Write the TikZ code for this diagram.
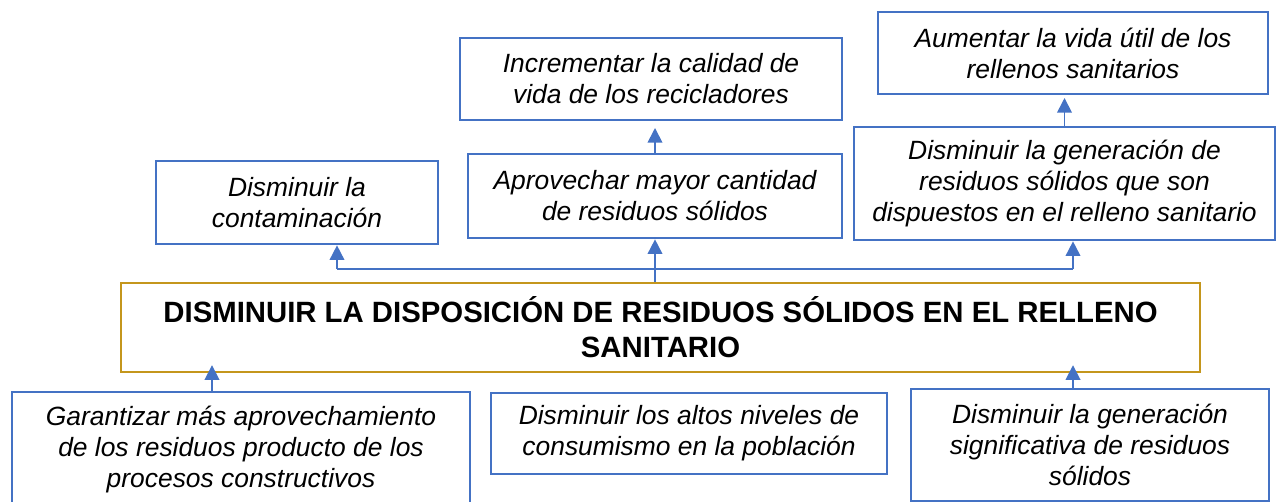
\documentclass[tikz,border=0pt]{standalone}
\usepackage{fontspec}
\setmainfont{Liberation Sans}
\usepackage{xcolor}
\usepackage{tikz}
\usetikzlibrary{positioning,arrows.meta,calc}
\definecolor{lineblue}{RGB}{68,114,196}
\definecolor{goldacc}{RGB}{196,150,28}
\tikzset{
  goal/.style   ={draw=lineblue, line width=2pt, fill=white, align=center,
                  font=\fontsize{19.8}{23.25}\selectfont\itshape, inner sep=2pt},
  mainblk/.style={draw=goldacc, line width=1.8pt, fill=white, align=center,
                  font=\fontsize{22}{26.25}\selectfont\bfseries, inner sep=2pt},
  ar/.style     ={-{Triangle[length=11pt,width=11pt]}, draw=lineblue, line width=1.3pt},
  ln/.style     ={draw=lineblue, line width=1.3pt},
}
\begin{document}
\begin{tikzpicture}[x=0.75pt,y=-0.75pt]
\useasboundingbox (0,0) rectangle (1277,502);

% central problem
\node[mainblk, minimum width=809.25pt, minimum height=66.75pt] (main) at (660.5,327.5)
  {DISMINUIR LA DISPOSICIÓN DE RESIDUOS SÓLIDOS EN EL RELLENO\\SANITARIO};

% ends (upper row)
\node[goal, minimum width=211.5pt, minimum height=62.25pt] (cont) at (297,202.5)
  {Disminuir la\\contaminación};
\node[goal, minimum width=280.5pt, minimum height=63pt] (aprov) at (655,196)
  {Aprovechar mayor cantidad\\de residuos sólidos};
\node[goal, minimum width=286.5pt, minimum height=61.5pt] (incr) at (651,79)
  {Incrementar la calidad de\\vida de los recicladores};
\node[goal, minimum width=315.75pt, minimum height=84.75pt] (gendisp) at (1064.5,183.5)
  {Disminuir la generación de\\residuos sólidos que son\\dispuestos en el relleno sanitario};
\node[goal, minimum width=292.5pt, minimum height=61.5pt] (vida) at (1073,53)
  {Aumentar la vida útil de los\\rellenos sanitarios};

% means (lower row)
\node[goal, minimum width=343.5pt, minimum height=87pt] (garant) at (241,450)
  {Garantizar más aprovechamiento\\de los residuos producto de los\\procesos constructivos};
\node[goal, minimum width=297pt, minimum height=60.75pt] (consum) at (689,433.5)
  {Disminuir los altos niveles de\\consumismo en la población};
\node[goal, minimum width=268.5pt, minimum height=84pt] (gensig) at (1090,445)
  {Disminuir la generación\\significativa de residuos\\sólidos};

% connectors up
\coordinate (jl) at (337,269);
\coordinate (jr) at (1073,269);
\draw[ln] (jl) -- (jr);
\draw[ar] (aprov.south |- main.north) -- (aprov.south);
\draw[ar] (jl) -- (jl |- cont.south);
\draw[ar] (jr) -- (jr |- gendisp.south);
\draw[ar, shorten >=5pt] (aprov.north) -- (aprov.north |- incr.south);
\draw[ar, shorten >=2pt] (gendisp.north) -- (gendisp.north |- vida.south);
\draw[ar, shorten >=-6pt] ($(garant.north)+(-29,0)$) coordinate (g1) -- (g1 |- main.south);
\draw[ar, shorten >=-6pt] ($(gensig.north)+(-17,0)$) coordinate (g2) -- (g2 |- main.south);
\end{tikzpicture}
\end{document}
